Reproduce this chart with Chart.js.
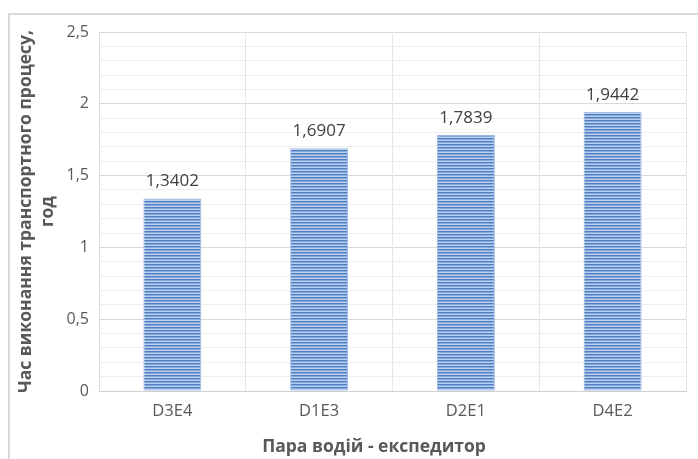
<!DOCTYPE html>
<html>
<head>
<meta charset="utf-8">
<script src="https://cdn.jsdelivr.net/npm/chart.js@4/dist/chart.umd.min.js"></script>
<style>
  html, body { margin: 0; padding: 0; background: #ffffff; }
  #wrap { width: 698px; height: 459px; position: relative; }
</style>
</head>
<body>
<div id="wrap"><canvas id="chart" width="698" height="459"></canvas></div>
<script>
// Pairs (driver - forwarder) and transport process duration, hours
const categories = ['D3E4', 'D1E3', 'D2E1', 'D4E2'];
const durations = [1.3402, 1.6907, 1.7839, 1.9442];
const yTitleLines = ['Час виконання транспортного процесу,', 'год'];
const xTitle = 'Пара водій - експедитор';

const FONT = '"Open Sans", "Noto Sans", sans-serif';

// Horizontal striped fill for the bars
function stripePattern() {
  const c = document.createElement('canvas');
  c.width = 4; c.height = 3;
  const g = c.getContext('2d');
  g.fillStyle = '#4f7fc1'; g.fillRect(0, 0, 4, 1);
  g.fillStyle = '#86a9dc'; g.fillRect(0, 1, 4, 1);
  g.fillStyle = '#bccfee'; g.fillRect(0, 2, 4, 1);
  return g.createPattern(c, 'repeat');
}

const fmt = v => v.toString().replace('.', ',');

// Light outer frame (left and top edges) and the category-axis caption
const framePlugin = {
  id: 'frame',
  beforeDraw(chart) {
    const ctx = chart.ctx;
    ctx.save();
    ctx.strokeStyle = '#d9d9d9';
    ctx.lineWidth = 2;
    ctx.beginPath();
    ctx.moveTo(9, 459);
    ctx.lineTo(9, 14);
    ctx.lineTo(698, 14);
    ctx.stroke();
    ctx.restore();
  },
  afterDraw(chart) {
    const ctx = chart.ctx;
    ctx.save();
    ctx.font = 'bold 17.5px ' + FONT;
    ctx.fillStyle = '#595959';
    ctx.textAlign = 'center';
    ctx.textBaseline = 'middle';
    ctx.fillText(xTitle, 374, 447);
    ctx.restore();
  }
};

// Value labels above each bar
const valueLabels = {
  id: 'valueLabels',
  afterDatasetsDraw(chart) {
    const ctx = chart.ctx;
    const meta = chart.getDatasetMeta(0);
    ctx.save();
    ctx.font = '17px ' + FONT;
    ctx.fillStyle = '#404040';
    ctx.textAlign = 'center';
    ctx.textBaseline = 'middle';
    meta.data.forEach((bar, i) => {
      ctx.fillText(fmt(chart.data.datasets[0].data[i]), bar.x, bar.y - 17);
    });
    ctx.restore();
  }
};

const ctx = document.getElementById('chart').getContext('2d');
new Chart(ctx, {
  type: 'bar',
  data: {
    labels: categories,
    datasets: [{
      data: durations,
      backgroundColor: stripePattern(),
      borderColor: '#9ab7e2',
      borderWidth: 1,
      categoryPercentage: 1,
      barPercentage: 0.395
    }]
  },
  options: {
    responsive: false,
    animation: false,
    devicePixelRatio: 1,
    layout: { padding: { left: 12, right: 12, top: 32, bottom: 2 } },
    plugins: { legend: { display: false }, tooltip: { enabled: false } },
    scales: {
      y: {
        min: 0, max: 2.5,
        afterFit(scale) { scale.width = 87; },
        ticks: {
          stepSize: 0.1,
          autoSkip: false,
          padding: 10,
          color: '#595959',
          font: { size: 16, family: FONT },
          callback(value) {
            const k = Math.round(value * 10);
            return k % 5 === 0 ? fmt(k / 10) : '';
          }
        },
        grid: {
          drawTicks: false,
          color(c) {
            const k = Math.round(c.tick.value * 10);
            return k % 5 === 0 ? '#d9d9d9' : '#eeeeee';
          },
          lineWidth: 1
        },
        border: { color: '#d9d9d9' },
        title: {
          display: true,
          text: yTitleLines,
          color: '#595959',
          font: { size: 17.5, weight: 'bold', family: FONT, lineHeight: 1.25 },
          padding: { top: 3, bottom: 0 }
        }
      },
      x: {
        afterFit(scale) { scale.height = 66; },
        ticks: {
          padding: 10,
          color: '#595959',
          font: { size: 16.5, family: FONT }
        },
        grid: { drawTicks: false, color: '#e6e6e6', offset: true },
        border: { color: '#d0d0d0' }
      }
    }
  },
  plugins: [framePlugin, valueLabels]
});
</script>
</body>
</html>
